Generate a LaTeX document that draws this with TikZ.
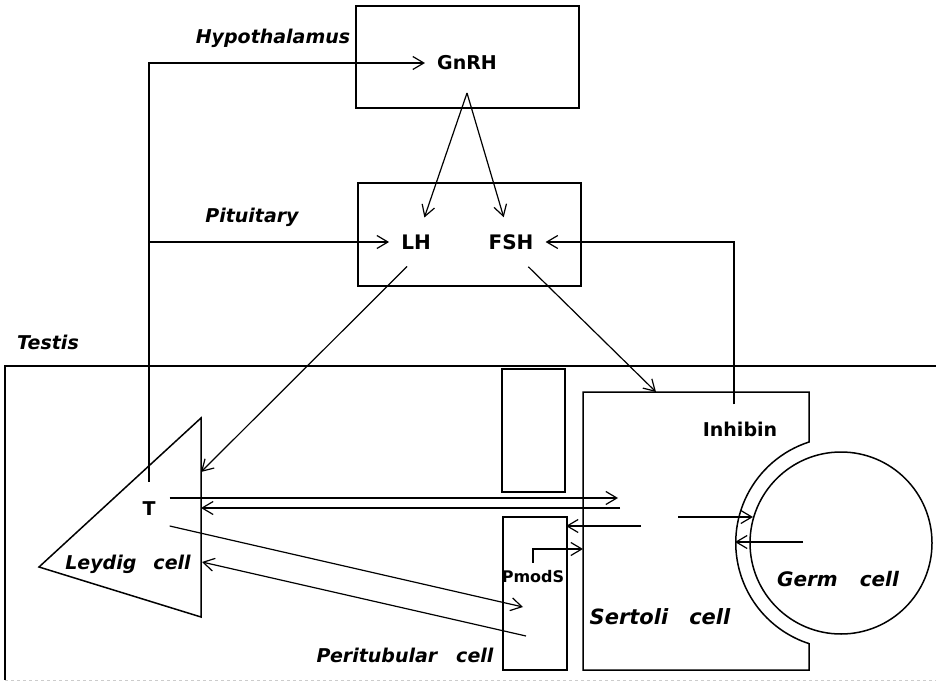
\documentclass[tikz,border=0pt]{standalone}
\usepackage{fontspec}
\setmainfont{DejaVu Sans}
\usetikzlibrary{arrows.meta}
\tikzset{
  organ/.style={font=\fontsize{19}{19}\selectfont\bfseries\itshape, inner sep=0pt},
  hormone/.style={font=\fontsize{19}{19}\selectfont\bfseries, inner xsep=12pt, inner ysep=17pt},
  wall/.style={draw=fg, line width=1.5pt},
  signal/.style={draw=fg, line width=1.2pt, -{Straight Barb[length=11pt,width=13pt]}},
}
\colorlet{fg}{black}

\begin{document}
\begin{tikzpicture}[x=1pt,y=1pt]
        \useasboundingbox (0,0) rectangle (936,681);

        % hypothalamus, pituitary, testis
        \draw[wall] (356,675) rectangle (579,573);
        \draw[wall] (358,498) rectangle (581,395);
        \draw[wall] (936,315) -- (5,315) -- (5,1);
        \draw[gray!40, dashed, line width=1pt] (5,1) -- (936,1);

        % cells
        \draw[wall] (201,263) -- (39,114) -- (201,64) -- cycle;
        \draw[wall] (502,312) rectangle (565,189);
        \draw[wall] (503,164) rectangle (567,11);
        \draw[wall] (583,289) -- (809,289) -- (809,239)
                arc[start angle=108, end angle=252, radius=106] -- (809,11) -- (583,11) -- cycle;
        \draw[wall] (841,138) circle (91);

        \draw (273,643) node[organ] (hypo) {Hypothalamus};
        \draw (252,464) node[organ] (pit) {Pituitary};
        \draw (48,339) node[organ] (testis) {Testis};
        \draw (128,117) node[organ] (leydig) {Leydig\hspace{0.9em}cell};
        \draw (405,26) node[organ] (peri) {Peritubular\hspace{1em}cell};
        \draw (660,64) node[organ, font=\fontsize{21}{21}\selectfont\bfseries\itshape] (sertoli) {Sertoli\hspace{1em}cell};
        \draw (838,102) node[organ, font=\fontsize{20}{20}\selectfont\bfseries\itshape] (germ) {Germ\hspace{1.1em}cell};

        \draw (467,618) node[hormone] (gnrh) {GnRH};
        \draw (416,439) node[hormone, font=\fontsize{20}{20}\selectfont\bfseries] (lh) {LH};
        \draw (511,439) node[hormone, font=\fontsize{20}{20}\selectfont\bfseries] (fsh) {FSH};
        \draw (149,172) node[hormone, inner xsep=14pt, inner ysep=20pt] (t) {T};
        \draw (740,252) node[hormone] (inhibin) {Inhibin};
        \draw (533,104) node[hormone, font=\fontsize{16}{16}\selectfont\bfseries, inner xsep=4pt, inner ysep=8pt] (pmods) {PmodS};

        \coordinate (gnrhout) at (467,588);
        \coordinate (leydigtop) at (201,209);
        \coordinate (leydigmid) at (201,173);
        \coordinate (leydiglow) at (202,119);
        \coordinate (sertolitop) at (656,289);
        \coordinate (tinS) at (618,183);
        \coordinate (tout) at (620,173);
        \coordinate (periin) at (523,74);
        \coordinate (periout) at (526,45);
        \coordinate (sertolimid) at (641,155);
        \coordinate (perieast) at (566,155);
        \coordinate (sertoliwest) at (583,132);
        \coordinate (sertolieast) at (678,164);
        \coordinate (germwest) at (753,164);
        \coordinate (germmid) at (803,139);
        \coordinate (cupwest) at (735,139);

        % hormone signals
        \draw[signal] (gnrhout) -- (lh);
        \draw[signal] (gnrhout) -- (fsh);
        \draw[signal] (t) |- (gnrh);
        \draw[signal] (t.north |- lh) -- (lh);
        \draw[signal] ([xshift=-6pt]inhibin.north) |- (fsh);
        \draw[signal] (lh.250) -- (leydigtop);
        \draw[signal] (fsh.305) -- (sertolitop);
        \draw[signal] ([yshift=11pt]t.east) -- (tinS);
        \draw[signal] (tout) -- (leydigmid);
        \draw[signal] ([yshift=-17pt]t.east) -- (periin);
        \draw[signal] (periout) -- (leydiglow);
        \draw[signal] (sertolimid) -- (perieast);
        \draw[signal] (pmods.north) |- (sertoliwest);
        \draw[signal] (sertolieast) -- (germwest);
        \draw[signal] (germmid) -- (cupwest);
      \end{tikzpicture}
\end{document}
